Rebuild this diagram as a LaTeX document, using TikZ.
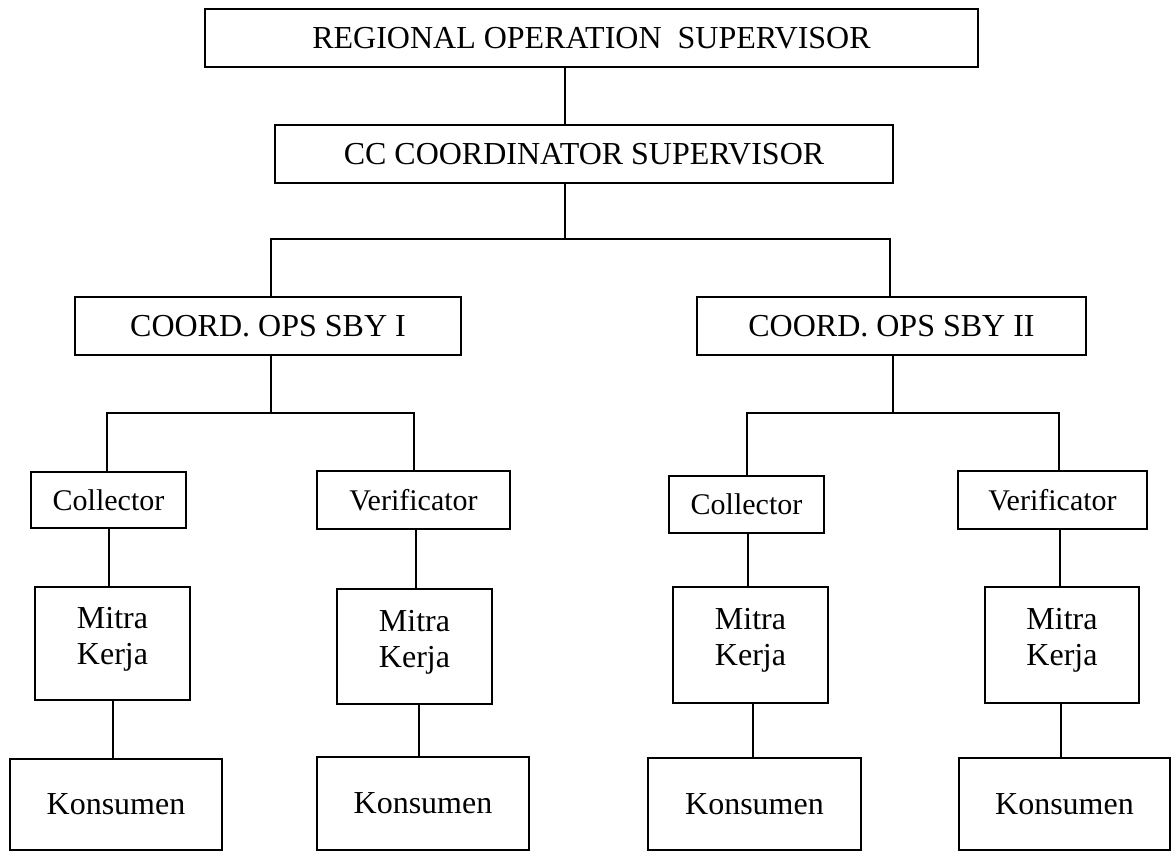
\documentclass[tikz,border=0pt]{standalone}
\usepackage{fontspec}
\setmainfont{Liberation Serif}
\begin{document}
\begin{tikzpicture}[x=1pt,y=-1pt,
  box/.style={draw=black,line width=1.6pt,inner sep=0pt,align=center,
    font=\fontsize{32}{36}\selectfont},
  small/.style={font=\fontsize{30}{36}\selectfont},
  conn/.style={draw=black,line width=1.6pt}]
\fill[white] (0,0) rectangle (1172,852);
\useasboundingbox (0,0) rectangle (1172,852);
% boxes
\node[box,minimum width=773pt,minimum height=58pt] (top) at (591.5,38) {REGIONAL OPERATION\hspace{0.5em}SUPERVISOR};
\node[box,minimum width=618pt,minimum height=58pt] (cc) at (584,154) {CC COORDINATOR SUPERVISOR};
\node[box,minimum width=386pt,minimum height=58pt] (sbyA) at (268,326) {COORD. OPS SBY I};
\node[box,minimum width=389pt,minimum height=58pt] (sbyB) at (891.5,326) {COORD. OPS SBY II};
\node[box,small,minimum width=155pt,minimum height=56pt] (colA) at (108.5,500) {Collector};
\node[box,small,minimum width=193pt,minimum height=58pt] (verA) at (413.5,500) {Verificator};
\node[box,small,minimum width=155pt,minimum height=57pt] (colB) at (746.5,504.5) {Collector};
\node[box,small,minimum width=189pt,minimum height=58pt] (verB) at (1052.5,500) {Verificator};
\node[box,minimum width=155pt,minimum height=113pt] (mkA) at (112.5,643.5) {Mitra\\Kerja\\[-20pt]};
\node[box,minimum width=155pt,minimum height=115pt] (mkB) at (414.5,646.5) {Mitra\\Kerja\\[-20pt]};
\node[box,minimum width=155pt,minimum height=116pt] (mkC) at (750.5,645) {Mitra\\Kerja\\[-20pt]};
\node[box,minimum width=154pt,minimum height=116pt] (mkD) at (1062,645) {Mitra\\Kerja\\[-20pt]};
\node[box,minimum width=212pt,minimum height=91pt] (kA) at (116,804.5) {Konsumen};
\node[box,minimum width=212pt,minimum height=93pt] (kB) at (423,803.5) {Konsumen};
\node[box,minimum width=213pt,minimum height=92pt] (kC) at (754.5,804) {Konsumen};
\node[box,minimum width=211pt,minimum height=92pt] (kD) at (1064.5,804) {Konsumen};
% routing coordinates
\coordinate (xm) at (565,0);
\coordinate (barTL) at (271,239);
\coordinate (barTR) at (890,239);
\coordinate (xa) at (271,0);
\coordinate (xb) at (893,0);
\coordinate (barAL) at (107,413);
\coordinate (barAR) at (414,413);
\coordinate (barBL) at (747,413);
\coordinate (barBR) at (1059,413);
\coordinate (x1) at (109,0);
\coordinate (x2) at (113,0);
\coordinate (x3) at (416,0);
\coordinate (x4) at (419,0);
\coordinate (x5) at (748,0);
\coordinate (x6) at (753,0);
\coordinate (x7) at (1060,0);
\coordinate (x8) at (1061,0);
% connectors
\draw[conn] (top.south -| xm) -- (cc.north -| xm);
\draw[conn] (cc.south -| xm) -- (barTL -| xm);
\draw[conn] (sbyA.north -| barTL) -- (barTL) -- (barTR) -- (sbyB.north -| barTR);
\draw[conn] (sbyA.south -| xa) -- (barAL -| xa);
\draw[conn] (colA.north -| barAL) -- (barAL) -- (barAR) -- (verA.north -| barAR);
\draw[conn] (sbyB.south -| xb) -- (barBL -| xb);
\draw[conn] (colB.north -| barBL) -- (barBL) -- (barBR) -- (verB.north -| barBR);
\draw[conn] (colA.south -| x1) -- (mkA.north -| x1);
\draw[conn] (mkA.south -| x2) -- (kA.north -| x2);
\draw[conn] (verA.south -| x3) -- (mkB.north -| x3);
\draw[conn] (mkB.south -| x4) -- (kB.north -| x4);
\draw[conn] (colB.south -| x5) -- (mkC.north -| x5);
\draw[conn] (mkC.south -| x6) -- (kC.north -| x6);
\draw[conn] (verB.south -| x7) -- (mkD.north -| x7);
\draw[conn] (mkD.south -| x8) -- (kD.north -| x8);
\end{tikzpicture}
\end{document}
